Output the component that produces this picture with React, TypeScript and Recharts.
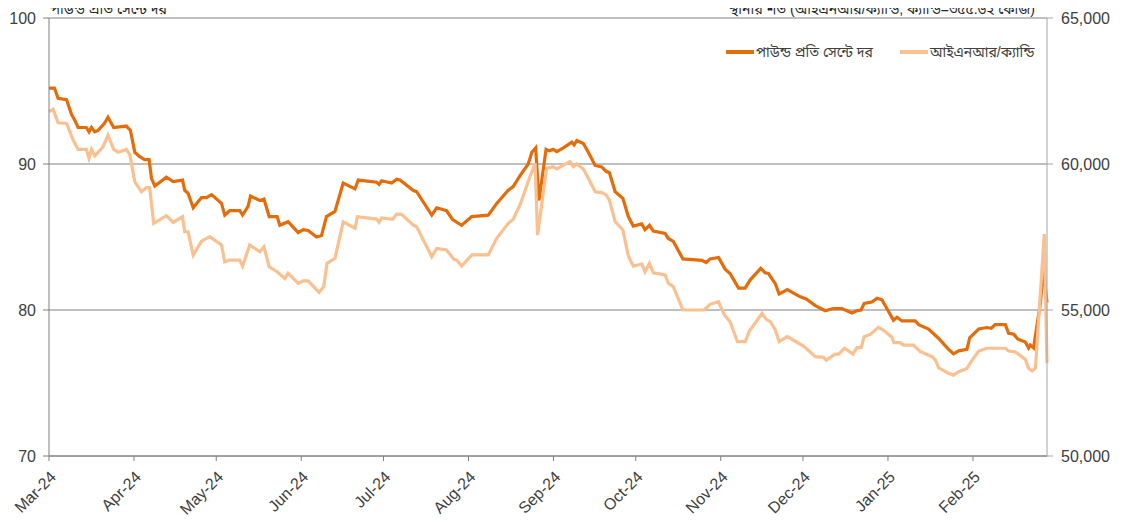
import React from "react";
import {
  LineChart,
  Line,
  XAxis,
  YAxis,
  CartesianGrid,
} from "recharts";

// days since 1 Mar 2024 -> value
const monthTicks = [0, 31, 61, 92, 122, 153, 184, 214, 245, 275, 306, 337];
const monthLabels = [
  "Mar-24", "Apr-24", "May-24", "Jun-24", "Jul-24", "Aug-24",
  "Sep-24", "Oct-24", "Nov-24", "Dec-24", "Jan-25", "Feb-25",
];
const leftTicks = [70, 80, 90, 100];
const rightTicks = [50000, 55000, 60000, 65000];

// US cents per pound
const centsPerLb: [number, number][] = [
  [0, 95.2], [2, 95.2], [3.3, 94.5], [6.4, 94.4], [8.2, 93.4], [9.4, 93.0],
  [10.6, 92.5], [13.6, 92.5], [14.6, 92.2], [15.5, 92.5], [16.7, 92.2],
  [17.9, 92.3], [20.3, 92.8], [21.5, 93.2], [23.6, 92.5], [28.2, 92.6],
  [29.7, 92.3], [31.3, 90.8], [33.1, 90.5], [34.9, 90.3], [36.5, 90.3],
  [37.4, 89.0], [38.6, 88.5], [42.8, 89.1], [45.3, 88.8], [48.7, 88.9],
  [49.5, 88.2], [50.7, 88.0], [52.6, 87.0], [55.6, 87.7], [57.4, 87.7],
  [59.3, 87.9], [62.9, 87.3], [64.1, 86.5], [65.9, 86.8], [69.6, 86.8],
  [70.6, 86.5], [72.6, 87.1], [73.5, 87.8], [76.9, 87.5], [78.4, 87.6],
  [80.3, 86.4], [83.2, 86.4], [84.2, 85.8], [87.2, 86.05], [90.9, 85.3],
  [92.7, 85.5], [94.5, 85.45], [97.6, 85.0], [99.4, 85.1], [101.2, 86.4],
  [104.3, 86.75], [107.3, 88.7], [111.6, 88.3], [112.8, 88.9], [119.5, 88.75],
  [120.4, 88.6], [121.3, 88.85], [125, 88.7], [126.8, 88.95], [128, 88.9],
  [132.8, 88.2], [134.1, 88.1], [139.6, 86.5], [141.4, 87.0], [145, 86.8],
  [147.2, 86.2], [150.5, 85.8], [154.2, 86.4], [160.2, 86.5], [163.3, 87.3],
  [167.5, 88.2], [169.3, 88.45], [171.8, 89.2], [174.8, 90.0], [176.1, 90.8],
  [177.5, 91.1], [178.7, 87.5], [181.3, 91.0], [182.5, 90.9], [183.9, 91.0],
  [185.2, 90.85], [187.6, 91.1], [190.7, 91.5], [191.5, 91.3], [192.5, 91.6],
  [194.9, 91.4], [196.7, 90.8], [199.2, 89.9], [201.6, 89.8], [203.2, 89.5],
  [204.4, 89.4], [206.5, 88.1], [209.3, 87.65], [211.3, 86.4], [213.1, 85.75],
  [216.2, 85.9], [217.4, 85.5], [219, 85.8], [220.4, 85.4], [224.7, 85.25],
  [225.9, 84.9], [227.7, 84.7], [231.2, 83.5], [238.1, 83.4], [239.7, 83.25],
  [241.1, 83.5], [244.2, 83.6], [246.6, 82.8], [248.4, 82.5], [251.5, 81.5],
  [253.9, 81.5], [255.7, 82.05], [259.6, 82.85], [261.2, 82.55], [262.4, 82.5],
  [264.9, 81.8], [266.3, 81.1], [269.3, 81.4], [274, 80.9], [276.2, 80.75],
  [279.5, 80.3], [283.1, 79.95], [286.1, 80.1], [289.2, 80.1], [292.8, 79.8],
  [294.7, 79.95], [296.2, 80.0], [297.3, 80.45], [300.1, 80.55], [302, 80.8],
  [303.8, 80.7], [308, 79.3], [309.3, 79.5], [311.1, 79.25], [315.9, 79.25],
  [317.2, 79.0], [320.8, 78.7], [324.5, 78.05], [328.1, 77.3], [329.9, 77.0],
  [331.8, 77.2], [334.8, 77.3], [335.8, 78.1], [339.1, 78.7], [342.1, 78.8],
  [343.7, 78.75], [345.1, 79.0], [348.8, 79.0], [350, 78.4], [351.8, 78.35],
  [353.4, 78.0], [356.1, 77.8], [357.3, 77.4], [357.9, 77.6], [359.1, 77.4],
  [361.6, 80.5], [362.7, 82.8], [364, 80.5],
];

// INR per candy
const inrPerCandy: [number, number][] = [
  [0, 61790], [1.5, 61870], [3.3, 61410], [6.4, 61390], [8.8, 60820],
  [10.6, 60500], [13.6, 60500], [14.6, 60195], [15.5, 60500], [16.7, 60275],
  [19.7, 60590], [21.5, 60990], [23.6, 60500], [25.2, 60400], [28.2, 60500],
  [29.5, 60310], [31.3, 59390], [33.7, 59050], [35.5, 59190], [36.7, 59190],
  [38.2, 57970], [42.8, 58230], [45.3, 58000], [48.7, 58195], [49.5, 57680],
  [50.7, 57680], [52.6, 56880], [55.6, 57360], [58.6, 57510], [62.9, 57225],
  [64.1, 56650], [65.9, 56710], [69.6, 56710], [70.6, 56505], [73.2, 57225],
  [76.9, 57000], [78.4, 57165], [80.3, 56480], [83.2, 56310], [86, 56080],
  [87.2, 56255], [90.9, 55915], [92.7, 56000], [94.5, 56000], [98.5, 55605],
  [100.2, 55800], [101.4, 56600], [104.3, 56770], [107.3, 58020], [111.6, 57800],
  [112.5, 58195], [119.5, 58115], [120.4, 58000], [121.3, 58150], [125.3, 58105],
  [126.8, 58285], [128.6, 58280], [132.8, 57910], [134.1, 57850], [139.6, 56825],
  [141.4, 57110], [145, 57055], [147.7, 56735], [148.7, 56710], [150.5, 56505],
  [154.2, 56885], [160.2, 56885], [163.3, 57455], [167.5, 57970], [169.3, 58105],
  [172, 58650], [175.4, 59565], [177.3, 60025], [178.2, 57570], [181.5, 59850],
  [183.9, 59905], [185.2, 59830], [190, 60080], [191.2, 59910], [192.5, 60000],
  [194.9, 59830], [196.7, 59510], [199.2, 59050], [201.6, 59020], [203.2, 58940],
  [204.4, 58765], [206.5, 58020], [209.3, 57740], [211.3, 56850], [213.1, 56505],
  [216.2, 56575], [217.4, 56310], [219, 56600], [220.4, 56275], [224.7, 56200],
  [225.9, 55915], [227.7, 55800], [231.2, 55000], [238.9, 55000], [241.1, 55195],
  [244.2, 55285], [246.3, 54830], [248.4, 54600], [251.1, 53915], [253.9, 53915],
  [255.5, 54290], [260.1, 54885], [261.6, 54680], [263.1, 54600], [264.9, 54315],
  [266.3, 53915], [269.3, 54085], [272.2, 53930], [275.2, 53765], [279.5, 53400],
  [282.5, 53380], [283.5, 53285], [286.7, 53490], [288, 53490], [290.1, 53690],
  [291.6, 53600], [293.2, 53490], [294.7, 53710], [296.2, 53710], [297.3, 54085],
  [299.5, 54165], [302.5, 54405], [304.3, 54315], [307.4, 54065], [308.2, 53880],
  [310.5, 53880], [311.7, 53800], [315.3, 53800], [317.8, 53570], [322.1, 53400],
  [323.3, 53285], [324.5, 53020], [328.1, 52830], [329.9, 52770], [331.8, 52885],
  [334.8, 53000], [336.7, 53285], [339.1, 53595], [342.1, 53690], [347, 53690],
  [348.8, 53690], [350, 53595], [352.3, 53570], [356.1, 53310], [357.3, 53000],
  [358.6, 52910], [359.8, 53020], [363, 57600], [364, 53185],
];

const ORANGE = "#E46C0A";
const LIGHT = "#FAC090";
const FONT = "'Liberation Sans', Arial, 'Noto Sans Bengali', sans-serif";

const seriesCents = centsPerLb.map(([d, v]) => ({ d, v }));
const seriesInr = inrPerCandy.map(([d, w]) => ({ d, w }));

const legendItems = [
  { label: "পাউন্ড প্রতি সেন্টে দর", color: ORANGE },
  { label: "আইএনআর/ক্যান্ডি", color: LIGHT },
];

function ChartLegend() {
  return (
    <div
      style={{
        position: "absolute",
        left: 726,
        top: 44,
        display: "flex",
        fontSize: 14,
        lineHeight: "16px",
        color: "#404040",
        zIndex: 2,
      }}
    >
      {legendItems.map((it, i) => (
        <div key={it.label} style={{ display: "flex", alignItems: "center", marginRight: i === 0 ? 27 : 0 }}>
          <span style={{ display: "inline-block", width: 28, height: 4, background: it.color, marginRight: 2 }} />
          <span>{it.label}</span>
        </div>
      ))}
    </div>
  );
}

export default function App() {
  // container pulled over the body margin so chart coords equal page coords
  return (
    <div style={{ position: "relative", width: 1123, height: 525, margin: "-8px 0 0 -8px", fontFamily: FONT }}>
      <LineChart width={1123} height={525} margin={{ top: 18, right: 0, bottom: 0, left: 0 }}>
        <CartesianGrid yAxisId="left" vertical={false} stroke="#808080" strokeWidth={1} />
        <XAxis
          type="number"
          dataKey="d"
          domain={[0, 364]}
          ticks={monthTicks}
          tickFormatter={(v: number) => monthLabels[monthTicks.indexOf(v)] ?? ""}
          interval={0}
          angle={-45}
          textAnchor="end"
          height={69}
          tickSize={5}
          tickMargin={9}
          stroke="#808080"
          tick={{ fill: "#404040", fontSize: 16, fontFamily: FONT }}
        />
        <YAxis
          yAxisId="left"
          domain={[70, 100]}
          ticks={leftTicks}
          width={49}
          tickSize={6}
          tickMargin={7}
          stroke="#808080"
          tick={{ fill: "#404040", fontSize: 16, fontFamily: FONT }}
        />
        <YAxis
          yAxisId="right"
          orientation="right"
          domain={[50000, 65000]}
          ticks={rightTicks}
          width={76}
          tickSize={6}
          tickMargin={8}
          stroke="#A6A6A6"
          tickFormatter={(v: number) => v.toLocaleString("en-US")}
          tick={{ fill: "#404040", fontSize: 16, fontFamily: FONT }}
        />
        <Line
          yAxisId="left"
          data={seriesCents}
          dataKey="v"
          type="linear"
          stroke={ORANGE}
          strokeWidth={3.2}
          dot={false}
          isAnimationActive={false}
        />
        <Line
          yAxisId="right"
          data={seriesInr}
          dataKey="w"
          type="linear"
          stroke={LIGHT}
          strokeWidth={3.2}
          dot={false}
          isAnimationActive={false}
        />
        <text x={50} y={14} fontSize={14} fill="#262626" fontFamily={FONT}>
          পাউন্ড প্রতি সেন্টে দর
        </text>
        <text x={1035} y={14} fontSize={14} fill="#262626" fontFamily={FONT} textAnchor="end">
          স্থানীয় শর্ত (আইএনআর/ক্যান্ডি, ক্যান্ডি=৩৫৫.৬২ কেজি)
        </text>
      </LineChart>
      <ChartLegend />
    </div>
  );
}
